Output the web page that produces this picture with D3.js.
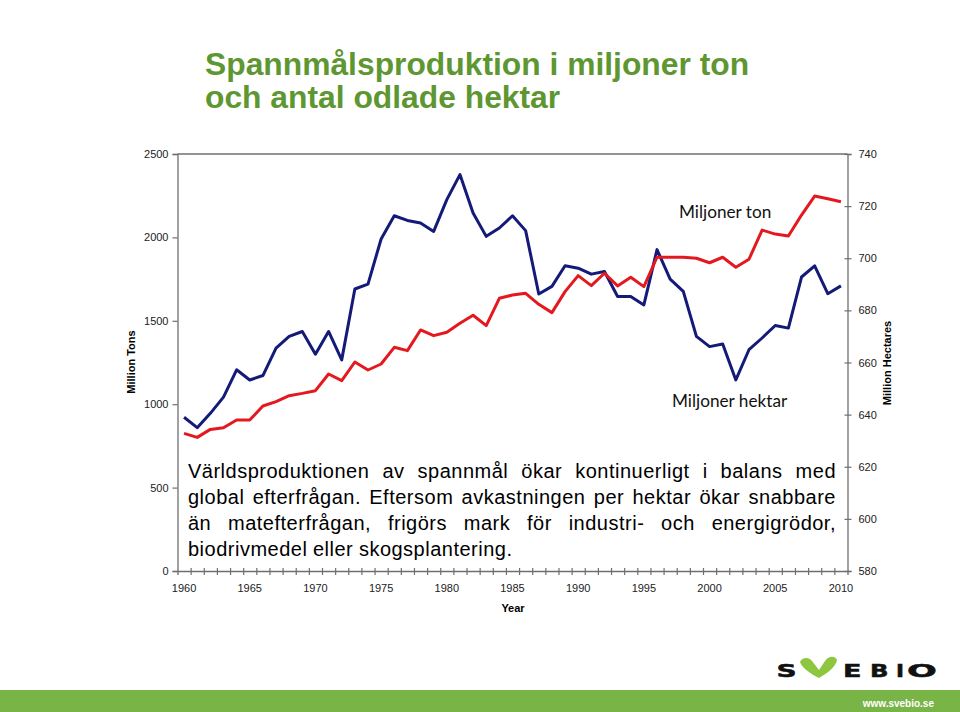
<!DOCTYPE html>
<html>
<head>
<meta charset="utf-8">
<script src="https://cdn.jsdelivr.net/npm/d3@7"></script>
<style>
  body { margin: 0; background: #fff; }
  svg text { font-family: "Liberation Sans", Arial, sans-serif; }
</style>
</head>
<body>
<div id="chart"></div>
<script>
// data
const years = d3.range(1960, 2011);
const tons = [825, 801, 849, 859, 905, 905, 989, 1015, 1051, 1065, 1081, 1181, 1141,
  1253, 1205, 1241, 1341, 1321, 1445, 1411, 1431, 1485, 1533, 1471, 1635, 1655, 1665,
  1599, 1549, 1675, 1771, 1711, 1785, 1709, 1761, 1705, 1881, 1881, 1881, 1875, 1848,
  1881, 1821, 1869, 2044, 2020, 2008, 2134, 2248, 2232, 2214];
const hectares = [639, 635, 640.5, 646.7, 657.2, 653.3, 655, 665.5, 670, 671.9, 663.2,
  671.9, 661, 688.2, 690.1, 707.4, 716.3, 714.5, 713.5, 710.3, 722.5, 732.1, 717.4,
  708.4, 711.6, 716.3, 710.6, 686.3, 689.2, 697.1, 696.2, 693.9, 694.9, 685.3, 685.3,
  682.1, 703.3, 692, 687.3, 670, 666.1, 667.1, 653.3, 664.9, 669.4, 674.2, 673.2,
  692.8, 697.1, 686.4, 689.4];
const tonTicks = [0, 500, 1000, 1500, 2000, 2500];
const haTicks = [580, 600, 620, 640, 660, 680, 700, 720, 740];
const yearLabels = [1960, 1965, 1970, 1975, 1980, 1985, 1990, 1995, 2000, 2005, 2010];

const titleLines = ["Spannmålsproduktion i miljoner ton", "och antal odlade hektar"];
const bodyLines = [
  "Världsproduktionen av spannmål ökar kontinuerligt i balans med",
  "global efterfrågan. Eftersom avkastningen per hektar ökar snabbare",
  "än matefterfrågan, frigörs mark för industri- och energigrödor,",
  "biodrivmedel eller skogsplantering."
];

const W = 960, H = 712;
const plot = { left: 177.5, right: 847.5, top: 154, bottom: 571 };
const green = "#5e9732";
const axisColor = "#6f6f6f";

const svg = d3.select("#chart").append("svg")
  .attr("width", W).attr("height", H);

// scales
const x = d3.scaleLinear().domain([1959.5, 2010.5]).range([plot.left, plot.right]);
const yTon = d3.scaleLinear().domain([0, 2500]).range([plot.bottom, plot.top]);
const yHa = d3.scaleLinear().domain([580, 740]).range([plot.bottom, plot.top]);

// title
svg.append("g").selectAll("text").data(titleLines).join("text")
  .attr("x", 205)
  .attr("y", (d, i) => 75 + i * 33)
  .style("font-size", "31.8px")
  .style("font-weight", "bold")
  .style("fill", green)
  .text(d => d);

// top border of plot
svg.append("line")
  .attr("x1", plot.left).attr("x2", plot.right)
  .attr("y1", plot.top).attr("y2", plot.top)
  .attr("stroke", axisColor).attr("stroke-width", 1.3);

// left axis
const gL = svg.append("g")
  .attr("transform", `translate(${plot.left},0)`)
  .call(d3.axisLeft(yTon).tickValues(tonTicks).tickSize(5).tickPadding(4).tickFormat(d3.format("d")));

// right axis
const gR = svg.append("g")
  .attr("transform", `translate(${plot.right},0)`)
  .call(d3.axisRight(yHa).tickValues(haTicks).tickSize(4).tickPadding(7));
gR.selectAll(".tick line").attr("x1", -3);

// x axis: ticks between the yearly categories
const gX = svg.append("g")
  .attr("transform", `translate(0,${plot.bottom})`)
  .call(d3.axisBottom(x).tickValues(d3.range(1960.5, 2010.5, 1)).tickSize(4).tickFormat(""));
gX.selectAll(".tick line").attr("y1", -3);
gX.append("g").selectAll("text").data(yearLabels).join("text")
  .attr("x", d => x(d))
  .attr("y", 21)
  .attr("text-anchor", "middle")
  .style("font-size", "11px")
  .style("fill", "#222")
  .text(d => d);

[gL, gR, gX].forEach(g => {
  g.select(".domain").attr("stroke", axisColor).attr("stroke-width", 1.3);
  g.selectAll(".tick line").attr("stroke", axisColor).attr("stroke-width", 1.2);
  g.selectAll(".tick text").style("font-size", "11px").style("fill", "#222")
    .style("font-family", "'Liberation Sans', Arial, sans-serif");
});

// axis titles
svg.append("text")
  .attr("transform", `translate(135,362) rotate(-90)`)
  .attr("text-anchor", "middle")
  .style("font-size", "11px").style("font-weight", "bold")
  .text("Million Tons");
svg.append("text")
  .attr("transform", `translate(891,363) rotate(-90)`)
  .attr("text-anchor", "middle")
  .style("font-size", "11px").style("font-weight", "bold")
  .text("Million Hectares");
svg.append("text")
  .attr("x", 513).attr("y", 612)
  .attr("text-anchor", "middle")
  .style("font-size", "11px").style("font-weight", "bold")
  .text("Year");

// lines
const lineTon = d3.line().x((d, i) => x(years[i])).y(d => yTon(d));
const lineHa = d3.line().x((d, i) => x(years[i])).y(d => yHa(d));

svg.append("path").datum(hectares)
  .attr("d", lineHa)
  .attr("fill", "none").attr("stroke", "#141a78").attr("stroke-width", 3)
  .attr("stroke-linejoin", "round");
svg.append("path").datum(tons)
  .attr("d", lineTon)
  .attr("fill", "none").attr("stroke", "#e3191f").attr("stroke-width", 3)
  .attr("stroke-linejoin", "round");

// series labels
svg.append("text")
  .attr("x", 679).attr("y", 218)
  .style("font-family", "Lato, 'Open Sans', sans-serif")
  .style("font-size", "17.2px").style("fill", "#111")
  .text("Miljoner ton");
svg.append("text")
  .attr("x", 672).attr("y", 407)
  .style("font-family", "Lato, 'Open Sans', sans-serif")
  .style("font-size", "17.2px").style("fill", "#111")
  .text("Miljoner hektar");

// justified body text: one text element per word
const textLeft = 188, textRight = 836;
const body = svg.append("g");
bodyLines.forEach((line, i) => {
  const words = line.split(" ");
  const ts = words.map(w => body.append("text")
    .attr("y", 478 + i * 25.9)
    .style("font-size", "20px")
    .style("letter-spacing", "0.5px")
    .style("fill", "#000")
    .text(w));
  const widths = ts.map(t => t.node().getComputedTextLength());
  const last = i === bodyLines.length - 1;
  const gap = last ? 5.6 : (textRight - textLeft - d3.sum(widths)) / (words.length - 1);
  let cx = textLeft;
  ts.forEach((t, j) => {
    t.attr("x", cx);
    cx += widths[j] + gap;
  });
});

// logo
const logo = svg.append("g");
const letters = [
  { c: "S", x: 776.5, sx: 1.55 },
  { c: "E", x: 843, sx: 1.5 },
  { c: "B", x: 870, sx: 1.35 },
  { c: "I", x: 896, sx: 1.2 },
  { c: "O", x: 907, sx: 1.95 }
];
logo.selectAll("text").data(letters).join("text")
  .attr("transform", d => `translate(${d.x},677) scale(${d.sx},1)`)
  .style("font-family", "'DejaVu Sans', sans-serif")
  .style("font-weight", "bold")
  .style("font-size", "18px")
  .style("stroke", "#111").style("stroke-width", 0.5)
  .style("fill", "#111")
  .text(d => d.c);
logo.append("path")
  .attr("d", "M800,662 C802,657 809,657 812,661 L819,670 L825,661 C829,655 836,656 837,660 C836,667 826,674 819,678 C811,674 802,668 800,662 Z")
  .attr("fill", "#8dc63f");

// footer band
svg.append("rect")
  .attr("x", 0).attr("y", 690).attr("width", W).attr("height", 22)
  .attr("fill", "#78b446");
svg.append("text")
  .attr("x", 934).attr("y", 706.5)
  .attr("text-anchor", "end")
  .style("font-size", "10px").style("font-weight", "bold")
  .style("fill", "#fff")
  .text("www.svebio.se");
</script>
</body>
</html>
